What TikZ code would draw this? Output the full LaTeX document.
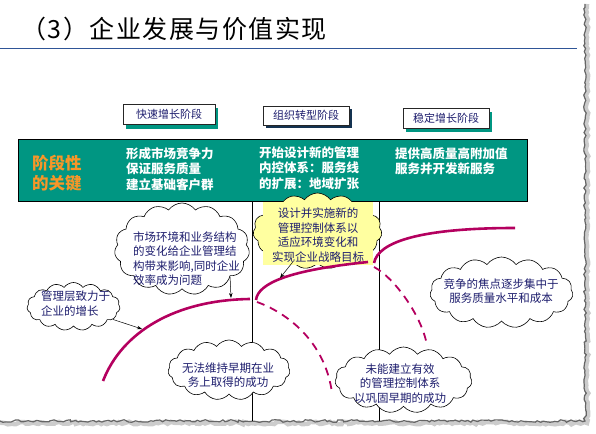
\documentclass[tikz,border=0pt]{standalone}
\usepackage{fontspec}
\setmainfont{Noto Sans CJK SC}
\usetikzlibrary{shapes.symbols, shadows, arrows.meta, decorations.pathmorphing}
\definecolor{bandteal}{RGB}{0,150,130}
\definecolor{keyorange}{RGB}{247,150,40}
\definecolor{curvemag}{RGB}{180,0,95}
\definecolor{inknavy}{RGB}{30,30,110}
\definecolor{noteyellow}{RGB}{255,255,160}
\definecolor{ruleblue}{RGB}{47,85,151}
\definecolor{shadenavy}{RGB}{20,50,80}
\tikzstyle{stagebox} = [draw=black!85, fill=white, line width=0.6pt, minimum width=86pt, minimum height=20pt, inner sep=0pt, text=inknavy, font=\fontsize{11}{13}\selectfont]
\tikzstyle{tealshadow} = [general shadow={fill=bandteal, shadow xshift=3pt, shadow yshift=-4pt}]
\tikzstyle{navyshadow} = [general shadow={fill=shadenavy, shadow xshift=3pt, shadow yshift=-3pt}]
\tikzstyle{bandtext} = [text=white, font=\fontsize{12.5}{15.5}\selectfont\bfseries, align=left, anchor=west, inner sep=0pt]
\tikzstyle{bubble} = [cloud, cloud puffs=15, cloud puff arc=110, cloud ignores aspect, draw=black, fill=white, line width=0.6pt, inner sep=0pt]
\tikzstyle{bubbletext} = [text=inknavy, font=\fontsize{11.5}{14.5}\selectfont, inner sep=0pt, align=center]
\tikzstyle{growth} = [draw=curvemag, line width=2.6pt]
\tikzstyle{lapse} = [draw=curvemag, line width=1.8pt, dash pattern=on 8pt off 6pt]
\tikzstyle{pointer} = [draw=black, line width=0.5pt, -{Stealth[length=5pt, width=3.5pt]}]
\tikzstyle{torn} = [decorate, decoration={random steps, segment length=3pt, amplitude=1.3pt}]

\begin{document}
\begin{tikzpicture}[x=1pt, y=-1pt]
    \useasboundingbox (0,0) rectangle (596,433);
    % heading
    \node (title) [anchor=west, inner sep=0pt, font=\fontsize{25}{30}\selectfont\addfontfeature{LetterSpace=6}] at (21,29) {（3）企业发展与价值实现};
    \coordinate (ruleL) at (0,48.5);
    \coordinate (ruleR) at (577,48.5);
    \draw [ruleblue, line width=1pt] (ruleL) -- (ruleR);

    % torn page edge
    \pgfmathsetseed{5}
    \draw [torn, gray!40, line width=4.5pt] (587,4) -- (587,423) -- (0,423);
    \pgfmathsetseed{5}
    \draw [torn, black!60, line width=1.2pt] (585,4) -- (585,421) -- (0,421);

    % stages
    \node (fast) [stagebox, tealshadow, minimum width=92pt] at (169,114.5) {快速增长阶段};
    \node (reform) [stagebox, navyshadow, minimum height=19pt] at (306,115.5) {组织转型阶段};
    \node (steady) [stagebox, tealshadow] at (446,118) {稳定增长阶段};

    \node (band) [draw=black, fill=bandteal, minimum width=509pt, minimum height=62pt, inner sep=0pt] at (272.5,170) {};
    \node (key) [bandtext, text=keyorange, font=\fontsize{16.5}{20}\selectfont\bfseries] at (32,173) {阶段性\\的关键};
    \node (fasttext) [bandtext] at (126,169) {形成市场竞争力\\保证服务质量\\建立基础客户群};
    \node (reformtext) [bandtext] at (259,168) {开始设计新的管理\\内控体系：服务线\\的扩展：地域扩张};
    \node (steadytext) [bandtext] at (395,161) {提供高质量高附加值\\服务并开发新服务};

    \coordinate (splitAtop) at (252,201);
    \coordinate (splitAbot) at (252,421);
    \coordinate (splitBtop) at (379,201);
    \coordinate (splitBbot) at (379,421);
    \draw [line width=0.6pt] (splitAtop) -- (splitAbot);
    \draw [line width=0.6pt] (splitBtop) -- (splitBbot);

    % notes
    \node (envcloud) [bubble, minimum width=135pt, minimum height=92pt] at (182,249) {};
    \node (mgmtcloud) [bubble, minimum width=93pt, minimum height=48pt] at (73.5,306.5) {};
    \node (designcloud) [bubble, fill=noteyellow, minimum width=129pt, minimum height=76pt] at (317.5,231) {};
    \node (designpatch) [fill=noteyellow, minimum width=110pt, minimum height=63pt, inner sep=0pt] at (318,233.5) {};
    \node (focuscloud) [bubble, minimum width=143pt, minimum height=71pt] at (501.5,292.5) {};
    \node (losscloud) [bubble, minimum width=122pt, minimum height=60pt] at (229,370) {};
    \node (failcloud) [bubble, minimum width=137pt, minimum height=66pt] at (403.5,380) {};

    \node (envtext) [bubbletext, align=left, anchor=west] at (133,258.5) {市场环境和业务结构\\的变化给企业管理结\\构带来影响,同时企业\\效率成为问题};
    \node (mgmttext) [bubbletext, align=left, anchor=west] at (41,303.5) {管理层致力于\\企业的增长};
    \node (designtext) [bubbletext] at (318,235) {设计并实施新的\\管理控制体系以\\适应环境变化和\\实现企业战略目标};
    \node (focustext) [bubbletext] at (501,291) {竞争的焦点逐步集中于\\服务质量水平和成本};
    \node (losstext) [bubbletext] at (228,375) {无法维持早期在业\\务上取得的成功};
    \node (failtext) [bubbletext] at (400,383.5) {未能建立有效\\的管理控制体系\\以巩固早期的成功};

    % growth curves
    \draw [growth] (103,381) .. controls (122,332) and (175,300) .. (250,299);
    \draw [growth] (256,300) .. controls (258,283) and (290,270) .. (368,262);
    \draw [growth] (374,263) .. controls (378,242) and (420,228) .. (515,228);
    \draw [lapse] (257,302) .. controls (285,312) and (325,340) .. (332,393);
    \draw [lapse] (374,267) .. controls (395,278) and (423,318) .. (427,346);

    \coordinate (hitone) at (142,329);
    \coordinate (hittwo) at (231,298);
    \coordinate (hitthree) at (280,278);
    \draw [pointer] (mgmtcloud) -- (hitone);
    \draw [pointer] (envcloud.-30) -- (hittwo);
    \draw [pointer] (designcloud) -- (hitthree);
\end{tikzpicture}
\end{document}
